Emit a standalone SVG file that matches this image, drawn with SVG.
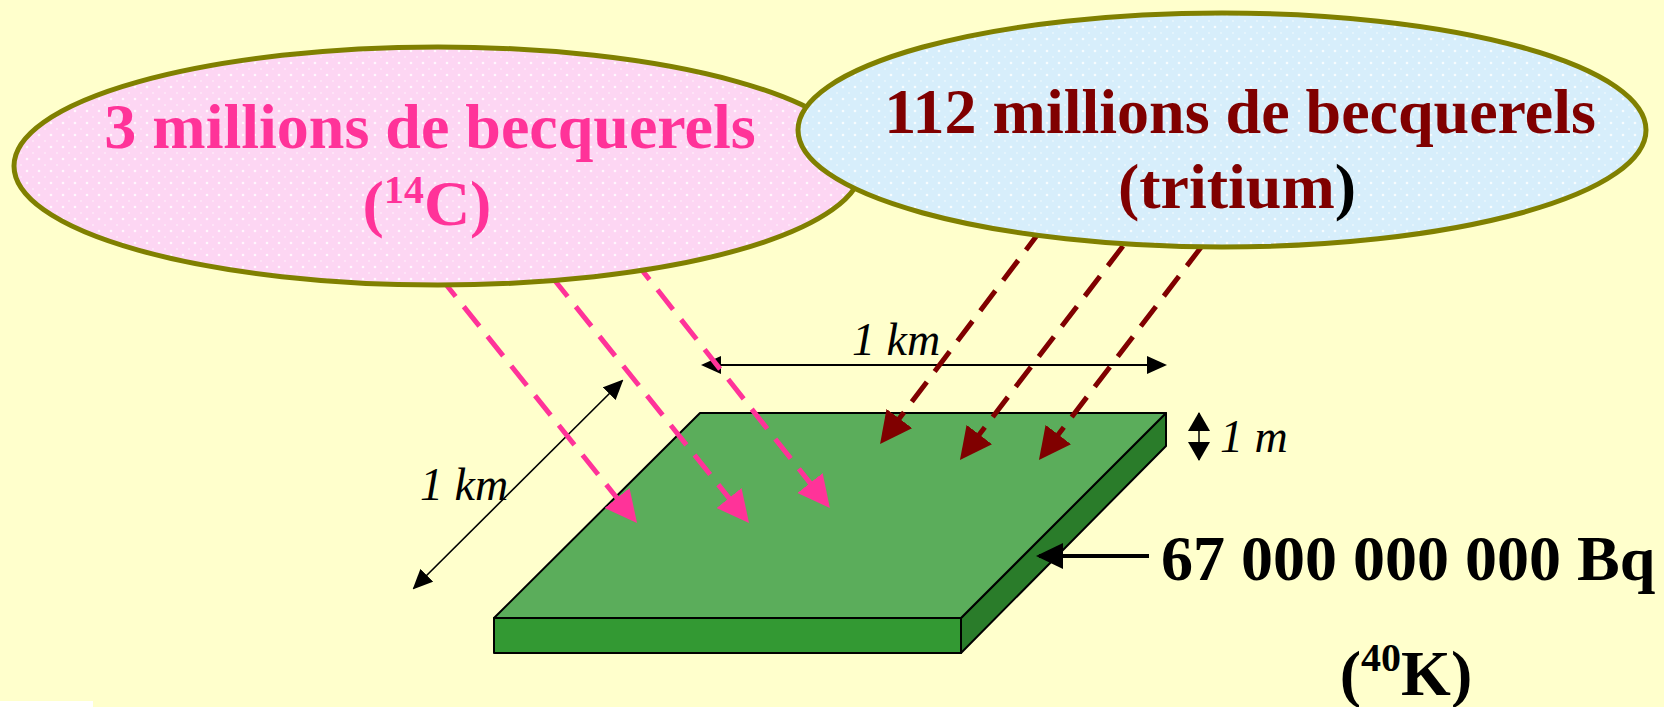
<svg xmlns="http://www.w3.org/2000/svg" width="1664" height="707" viewBox="0 0 1664 707">
<style>
.bold{font-family:"Liberation Serif","Times New Roman",serif;font-weight:bold;font-size:64px}
.ital{font-family:"Liberation Serif","Times New Roman",serif;font-style:italic;font-size:46px;fill:#000}
.pink{fill:#FF3399}
.dred{fill:#800000}
.ell{stroke:#808000;stroke-width:5}
.dash{fill:none;stroke-width:5;stroke-dasharray:25 13}
.dim{fill:none;stroke:#000}
.edge{stroke:#000;stroke-width:2;stroke-linejoin:round}
</style>
<defs>
<pattern id="pdots" width="12" height="12" patternUnits="userSpaceOnUse">
<rect width="12" height="12" fill="#FDD6F3"/>
<circle cx="3" cy="3" r="1.3" fill="#FFFFFF" opacity="0.8"/>
<circle cx="9" cy="9" r="0.9" fill="#FFFFFF" opacity="0.5"/>
</pattern>
<pattern id="bdots" width="12" height="12" patternUnits="userSpaceOnUse">
<rect width="12" height="12" fill="#D7EEFB"/>
<circle cx="3" cy="3" r="1.3" fill="#FFFFFF" opacity="0.8"/>
<circle cx="9" cy="9" r="0.9" fill="#FFFFFF" opacity="0.5"/>
</pattern>
<marker id="mPink" markerWidth="6.4" markerHeight="6.4" refX="1.4" refY="3.2" orient="auto" markerUnits="strokeWidth">
<path d="M0,0 L6.4,3.2 L0,6.4 z" fill="#FF3399"/>
</marker>
<marker id="mRed" markerWidth="6.4" markerHeight="6.4" refX="1.4" refY="3.2" orient="auto" markerUnits="strokeWidth">
<path d="M0,0 L6.4,3.2 L0,6.4 z" fill="#800000"/>
</marker>
<marker id="mDim" markerWidth="20" markerHeight="18" refX="18" refY="9" orient="auto-start-reverse" markerUnits="userSpaceOnUse">
<path d="M0,0 L20,9 L0,18 z" fill="#000"/>
</marker>
<marker id="mSmall" markerWidth="19" markerHeight="22" refX="18" refY="11" orient="auto-start-reverse" markerUnits="userSpaceOnUse">
<path d="M0,0 L19,11 L0,22 z" fill="#000"/>
</marker>
<marker id="mBig" markerWidth="27" markerHeight="26" refX="24" refY="13" orient="auto" markerUnits="userSpaceOnUse">
<path d="M0,0 L27,13 L0,26 z" fill="#000"/>
</marker>
</defs>
<rect width="1664" height="707" fill="#FFFFCC"/>
<rect x="0" y="701" width="93" height="6" fill="#FFFFFF"/>

<g id="slab">
<polygon points="494,618 961,618 961,653 494,653" fill="#339933" class="edge"/>
<polygon points="961,618 1166,413 1166,446 961,653" fill="#2A7C2A" class="edge"/>
<polygon points="700,413 1166,413 961,618 494,618" fill="#5BAD5B" class="edge"/>
</g>

<g id="dimensions">
<line x1="703" y1="365" x2="1165" y2="365" class="dim" stroke-width="2" marker-start="url(#mDim)" marker-end="url(#mDim)"/>
<line x1="622" y1="381" x2="414" y2="588" class="dim" stroke-width="1.6" marker-start="url(#mDim)" marker-end="url(#mDim)"/>
<line x1="1199" y1="413" x2="1199" y2="460" class="dim" stroke-width="1.5" marker-start="url(#mSmall)" marker-end="url(#mSmall)"/>
<text class="ital" x="852" y="355">1 km</text>
<text class="ital" x="420" y="500">1 km</text>
<text class="ital" x="1220" y="452">1 m</text>
</g>

<g id="connectors">
<line x1="440" y1="277" x2="621.4" y2="503.5" class="dash" stroke="#FF3399" marker-end="url(#mPink)"/>
<line x1="552" y1="277" x2="733.4" y2="503.5" class="dash" stroke="#FF3399" marker-end="url(#mPink)"/>
<line x1="634" y1="260" x2="814.4" y2="488.5" class="dash" stroke="#FF3399" marker-end="url(#mPink)"/>
<line x1="1041" y1="230" x2="895.1" y2="424.1" class="dash" stroke="#800000" marker-end="url(#mRed)"/>
<line x1="1123" y1="246" x2="975.1" y2="440.1" class="dash" stroke="#800000" marker-end="url(#mRed)"/>
<line x1="1202" y1="246" x2="1054.1" y2="440.1" class="dash" stroke="#800000" marker-end="url(#mRed)"/>
<line x1="1149" y1="556" x2="1039" y2="556" stroke="#000" stroke-width="4" marker-end="url(#mBig)"/>
</g>

<g id="node-c14">
<ellipse cx="438" cy="166" rx="424" ry="119" fill="url(#pdots)" class="ell"/>
<text class="bold pink" x="430" y="148" text-anchor="middle">3 millions de becquerels</text>
<text class="bold pink" x="427" y="225" text-anchor="middle">(<tspan font-size="40" dy="-22">14</tspan><tspan dy="22">C)</tspan></text>
</g>

<g id="node-tritium">
<ellipse cx="1222" cy="130" rx="424" ry="117" fill="url(#bdots)" class="ell"/>
<text class="bold dred" x="1240" y="133" text-anchor="middle">112 millions de becquerels</text>
<text class="bold dred" x="1237" y="208" text-anchor="middle">(tritium<tspan fill="#000">)</tspan></text>
</g>

<g id="node-k40">
<text class="bold" x="1161" y="580" fill="#000">67 000 000 000 Bq</text>
<text class="bold" x="1406" y="695" fill="#000" text-anchor="middle">(<tspan font-size="40" dy="-24">40</tspan><tspan dy="24">K)</tspan></text>
</g>
</svg>
